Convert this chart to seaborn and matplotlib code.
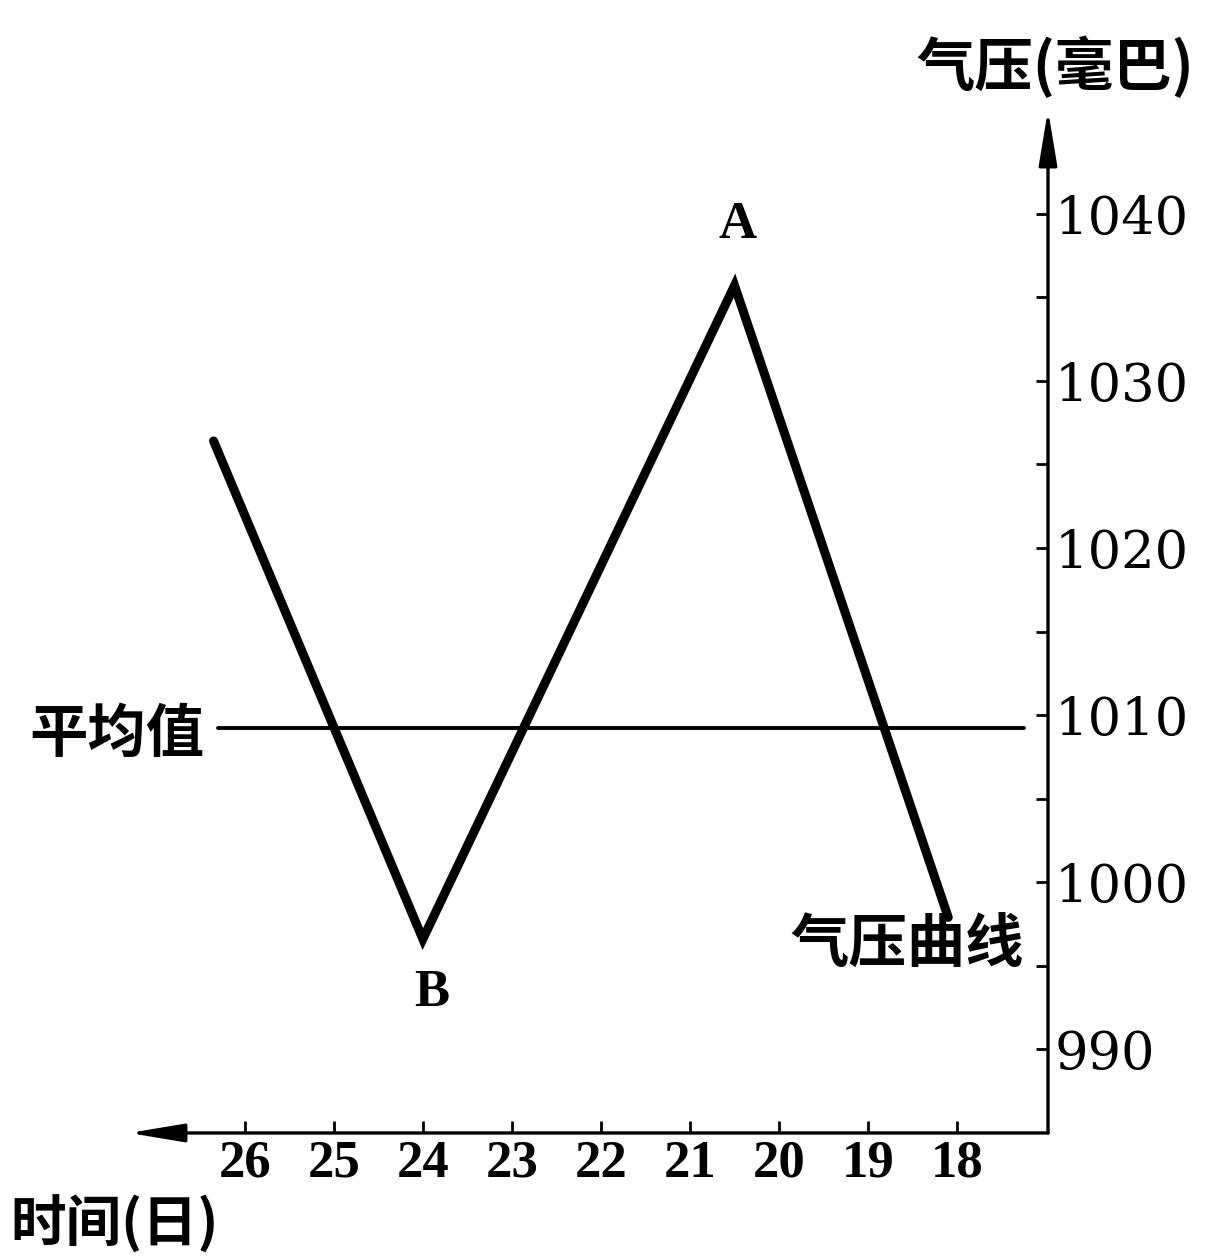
import matplotlib
matplotlib.use("Agg")
import matplotlib.pyplot as plt
import seaborn as sns
import pandas as pd
from matplotlib.ticker import FixedLocator

# Pressure readings (mbar) by day, plotted with time running right-to-left
days = [26.35, 24.0, 20.5, 18.1]
pressure = [1026.4, 996.6, 1035.7, 997.9]
point_names = ["", "B", "A", ""]

# Mean pressure level
mean_days = [26.3, 17.25]
mean_pressure = [1009.2, 1009.2]

day_ticks = [26, 25, 24, 23, 22, 21, 20, 19, 18]
pressure_ticks = [990, 1000, 1010, 1020, 1030, 1040]
pressure_minor = [995, 1005, 1015, 1025, 1035]

sns.set_theme(style="white")
plt.rcParams["font.family"] = ["Noto Sans CJK SC", "DejaVu Sans"]

curve = pd.DataFrame({"day": days, "pressure": pressure})
mean = pd.DataFrame({"day": mean_days, "pressure": mean_pressure})

fig = plt.figure(figsize=(12.11, 12.59), dpi=100)
ax = fig.add_axes([0.1065, 0.1001, 0.7589, 0.8125])

sns.lineplot(data=curve, x="day", y="pressure", sort=False, color="black",
             linewidth=6.5, ax=ax, solid_capstyle="round", solid_joinstyle="miter")
sns.lineplot(data=mean, x="day", y="pressure", sort=False, color="black",
             linewidth=2.8, ax=ax)

ax.set_xlim(27.3, 16.98)
ax.set_ylim(985.0, 1046.2)

for s in ax.spines.values():
    s.set_visible(False)

# Axis lines with arrowheads
arrow = dict(arrowstyle="-|>,head_length=1.2,head_width=0.2", lw=2.4,
             color="black", mutation_scale=28, shrinkA=0, shrinkB=0)
ax.annotate("", xy=(1, 1), xytext=(1, 0), xycoords="axes fraction",
            textcoords="axes fraction", arrowprops=arrow)
ax.annotate("", xy=(0, 0), xytext=(1, 0), xycoords="axes fraction",
            textcoords="axes fraction", arrowprops=arrow)

# Ticks
ax.yaxis.tick_right()
ax.yaxis.set_major_locator(FixedLocator(pressure_ticks))
ax.yaxis.set_minor_locator(FixedLocator(pressure_minor))
ax.xaxis.set_major_locator(FixedLocator(day_ticks))
ax.tick_params(axis="y", which="both", direction="in", length=9, width=2,
               color="black", pad=5, right=True, left=False)
ax.tick_params(axis="x", which="major", direction="in", length=9, width=2,
               color="black", pad=5, bottom=True, top=False)
ax.set_yticklabels([str(v) for v in pressure_ticks], family="DejaVu Serif",
                   fontsize=38, color="black")
ax.set_xticklabels([str(v) for v in day_ticks], family="Liberation Serif",
                   fontsize=38, fontweight="bold", color="black")
ax.set_xlabel("")
ax.set_ylabel("")

# Point labels
for d, p, name in zip(days, pressure, point_names):
    if not name:
        continue
    offset = 3.6 if name == "A" else -3.2
    ax.text(d - 0.03 if name == "A" else d - 0.1, p + offset, name,
            family="Liberation Serif", fontweight="bold", fontsize=38,
            ha="center", va="center", color="black")

cjk = dict(family=["Noto Sans CJK SC", "DejaVu Sans"], fontweight="bold",
           color="black")
ax.text(26.45, mean_pressure[0] - 0.4, "平均值", fontsize=42, ha="right",
        va="center", clip_on=False, **cjk)
ax.text(17.25, 996.2, "气压曲线", fontsize=42, ha="right", va="center", **cjk)
fig.text(1055 / 1211, 1 - 68 / 1259, "气压(毫巴)", fontsize=42, ha="center",
         va="center", **cjk)
fig.text(10 / 1211, 1 - 1225 / 1259, "时间(日)", fontsize=40, ha="left",
         va="center", **cjk)

fig.savefig("out.png", dpi=100)
